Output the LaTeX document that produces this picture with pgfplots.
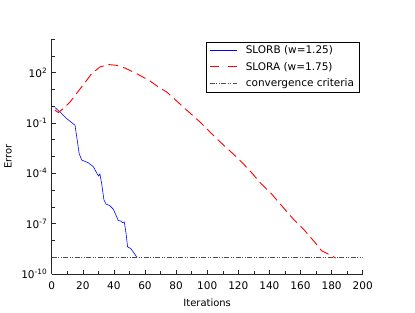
\documentclass[border=0pt]{standalone}
\usepackage{pgfplots}
\pgfplotsset{compat=1.18}
\usepackage{fontspec}
\setmainfont{DejaVu Sans}
\newcommand{\bseg}[1]{\rule[-0.3bp]{#1}{0.6bp}}
\newcommand{\rseg}[1]{\rule[-0.45bp]{#1}{0.9bp}}
\newcommand{\gseg}[1]{\rule[-0.3bp]{#1}{0.6bp}}
\begin{document}
\begin{tikzpicture}
\path (-51.7bp,-39bp) rectangle (363.3bp,274bp);
\begin{axis}[
  at={(0,0)}, anchor=south west,
  scale only axis, width=311bp, height=235bp,
  xmin=0, xmax=200, ymin=-10, ymax=4,
  axis x line*=bottom, axis y line*=left,
  axis line style={black!85, line width=0.6bp},
  tick align=inside,
  tick style={black!85, line width=0.5bp},
  major tick length=4bp, minor tick length=3bp,
  xtick={0,20,...,200}, minor x tick num=1,
  ytick={-10,-7,-4,-1,2},
  yticklabels={10\textsuperscript{-10},10\textsuperscript{-7},10\textsuperscript{-4},10\textsuperscript{-1},10\textsuperscript{2}},
  minor ytick={-9,-8,-6,-5,-3,-2,0,1,3,4},
  /pgf/number format/assume math mode=true,
  tick label style={font=\fontsize{10.5bp}{12bp}\selectfont},
  xticklabel style={yshift=-4bp},
  yticklabel style={xshift=-1bp},
  label style={font=\fontsize{12bp}{14bp}\selectfont},
  xlabel={Iterations}, ylabel={Error},
  every axis x label/.style={at={(axis description cs:0.5,-0.1234)}, anchor=center},
  every axis y label/.style={at={(axis description cs:-0.1405,0.5)}, rotate=90, anchor=center},
  legend style={at={(0.989,0.988)}, anchor=north east,
    nodes={font=\fontsize{10.5bp}{12bp}\selectfont}, row sep=3bp, inner xsep=3bp, inner ysep=2bp},
  legend cell align=left,
]
\addplot[blue, line width=0.6bp,
  legend image code/.code={\node[inner sep=0pt, anchor=west] at (0bp,0bp)
    {\textcolor{blue}{\bseg{27bp}}\hspace*{7bp}\mbox{}};}] coordinates {
(2.1,-0.08) (5.3,-0.35) (9.6,-0.74) (15,-1.14) (16.1,-1.83) (17.7,-2.84)
(19.3,-3.21) (20.3,-3.25) (23.5,-3.37) (26.8,-3.61) (27.8,-3.78) (29.3,-4.04)
(30.2,-4.16) (31,-4.04) (32.1,-4.6) (33.6,-5.59) (34.9,-5.83) (37.5,-5.94)
(39.6,-6.14) (41.3,-6.48) (42.8,-6.82) (44.3,-6.84) (45.6,-6.94) (46.7,-6.9)
(47.8,-7.58) (48.8,-8.38) (50.8,-8.48) (52.4,-8.68) (54.6,-8.98)
};
\addlegendentry{SLORB (w=1.25)}
\addplot[red, line width=0.9bp, dash pattern=on 10bp off 5bp,
  legend image code/.code={\node[inner sep=0pt, anchor=west] at (0bp,0bp)
    {\textcolor{red}{\rseg{9bp}\hspace{9bp}\rseg{9bp}}\hspace*{7bp}\mbox{}};}] coordinates {
(2.1,-0.24) (4.3,-0.38) (7.5,-0.14) (11.8,0.25) (17.1,0.89) (21.4,1.40)
(25.7,1.94) (31,2.33) (36.4,2.48) (41.8,2.43) (47.1,2.27) (54.6,1.94)
(63.2,1.50) (69.6,1.08) (73.9,0.85) (84.6,-0.05) (95.3,-0.94) (106,-1.93)
(119.9,-3.12) (127.4,-3.84) (133.9,-4.54) (141.4,-5.23) (148.8,-6.03)
(155.3,-6.72) (162.8,-7.42) (169.2,-8.11) (173.5,-8.61) (177.8,-8.81) (182.7,-9.05)
};
\addlegendentry{SLORA (w=1.75)}
\addplot[black!70, line width=0.5bp, dash pattern=on 5bp off 1.5bp on 1bp off 1.5bp on 1bp off 1.5bp,
  legend image code/.code={\node[inner sep=0pt, anchor=west] at (0bp,0bp)
    {\textcolor{black!70}{\gseg{5bp}\hspace{1.5bp}\gseg{1bp}\hspace{1.5bp}\gseg{1bp}\hspace{1.5bp}\gseg{5bp}\hspace{1.5bp}\gseg{1bp}\hspace{1.5bp}\gseg{1bp}\hspace{1.5bp}\gseg{4bp}}\hspace*{7bp}\mbox{}};}] coordinates {
(0,-9) (200,-9)
};
\addlegendentry{convergence criteria}
\end{axis}
\end{tikzpicture}
\end{document}
